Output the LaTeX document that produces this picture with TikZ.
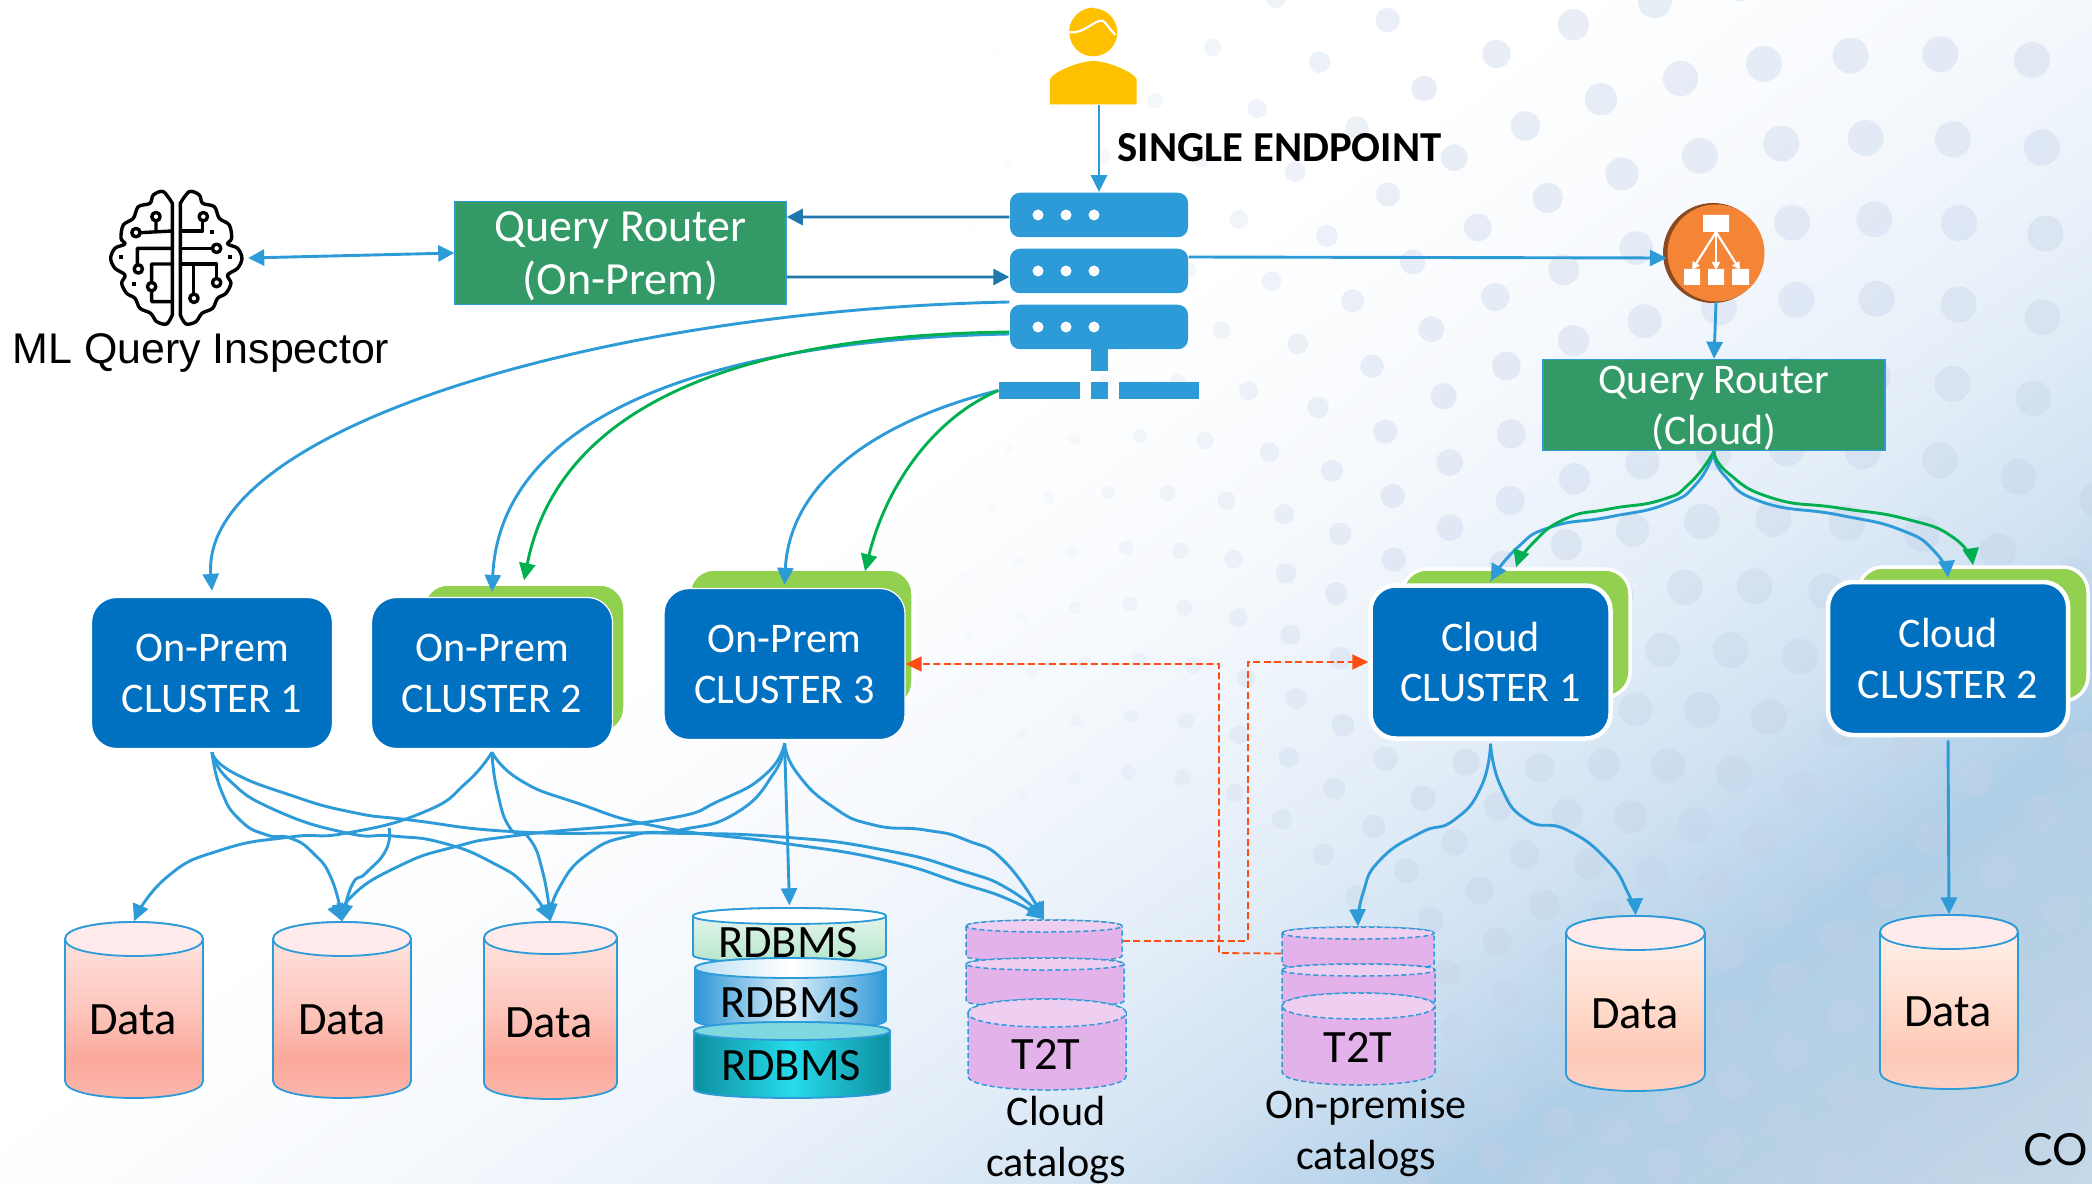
\documentclass[tikz,border=0pt]{standalone}
\usepackage{fontspec}
\setmainfont{Carlito}
\newfontfamily\arialfont{Liberation Sans}
\newfontfamily\logofont{Lato}
\usetikzlibrary{arrows.meta}

\definecolor{linkblue}{HTML}{2E9BD9}
\definecolor{darklink}{HTML}{1F78AB}
\definecolor{linkgreen}{HTML}{00B050}
\definecolor{linkorange}{HTML}{FF4D14}
\definecolor{routergreen}{HTML}{339966}
\definecolor{clusterblue}{HTML}{0070C0}
\definecolor{backgreen}{HTML}{92D050}
\definecolor{usergold}{HTML}{FFC000}
\definecolor{catpink}{HTML}{E3B2EA}
\definecolor{cattop}{HTML}{EECFF2}
\definecolor{lborange}{HTML}{F58536}
\definecolor{lbbrown}{HTML}{8A4A20}
\definecolor{dotgrey}{HTML}{C4D2E8}
\definecolor{tealtop}{HTML}{7FD8DF}
\definecolor{bga}{HTML}{F6F9FD}
\definecolor{bgb}{HTML}{E4EEF8}
\definecolor{bgc}{HTML}{CFE1F2}
\definecolor{bgd}{HTML}{B0CFE7}
\definecolor{bge}{HTML}{B8D1E4}
\definecolor{bgf}{HTML}{C6D8E8}
\definecolor{dataa}{HTML}{FDB8AE}
\definecolor{datab}{HTML}{FBA99C}
\definecolor{datac}{HTML}{FDC5BC}
\definecolor{datad}{HTML}{FEDCD6}
\definecolor{datae}{HTML}{FFF3F0}
\definecolor{peacha}{HTML}{FDD3C5}
\definecolor{peachb}{HTML}{FDC9B8}
\definecolor{peachc}{HTML}{FFDCCD}
\definecolor{peachd}{HTML}{FFECE5}
\definecolor{peache}{HTML}{FFF6F2}
\definecolor{rgreena}{HTML}{B2E4C8}
\definecolor{rgreenb}{HTML}{EEF8F2}
\definecolor{rbluea}{HTML}{2F98D8}
\definecolor{rblueb}{HTML}{DCEEF9}
\definecolor{rbluec}{HTML}{BEE1F5}
\definecolor{rteala}{HTML}{0E8F9F}
\definecolor{rtealb}{HTML}{26DCEC}

\pgfdeclarehorizontalshading{bgfade}{100bp}{color(0bp)=(white); color(46bp)=(white); color(52bp)=(bga);
  color(58bp)=(bgb); color(62.3bp)=(bgc); color(66.3bp)=(bgd); color(70.3bp)=(bge); color(75bp)=(bgf); color(100bp)=(bgf)}
\pgfdeclareverticalshading{datafade}{100bp}{color(0bp)=(dataa); color(25bp)=(dataa); color(37bp)=(datab);
  color(50bp)=(datac); color(65bp)=(datad); color(75bp)=(datae); color(100bp)=(datae)}
\pgfdeclareverticalshading{peachfade}{100bp}{color(0bp)=(peacha); color(25bp)=(peacha); color(37bp)=(peachb);
  color(50bp)=(peachc); color(65bp)=(peachd); color(75bp)=(peache); color(100bp)=(peache)}
\pgfdeclareverticalshading{rdbmsgreen}{100bp}{color(0bp)=(rgreena); color(25bp)=(rgreena); color(75bp)=(rgreenb); color(100bp)=(rgreenb)}
\pgfdeclarehorizontalshading{rdbmsblue}{100bp}{color(0bp)=(rbluea); color(25bp)=(rbluea); color(50bp)=(rblueb); color(75bp)=(rbluea); color(100bp)=(rbluea)}
\pgfdeclarehorizontalshading{rdbmslid}{100bp}{color(0bp)=(rbluec); color(25bp)=(rbluec); color(50bp)=(white); color(75bp)=(rbluec); color(100bp)=(rbluec)}
\pgfdeclarehorizontalshading{rdbmsteal}{100bp}{color(0bp)=(rteala); color(25bp)=(rteala); color(50bp)=(rtealb); color(75bp)=(rteala); color(100bp)=(rteala)}

% name, left, right, top, bottom, lid height, body style, lid style
\newcommand{\canshape}[8]{%
  \draw[#7] (#2,#4+#6) -- (#2,#5-#6) .. controls (#2,#5+#6/3) and (#3,#5+#6/3) .. (#3,#5-#6) -- (#3,#4+#6)
    .. controls (#3,#4-#6/3) and (#2,#4-#6/3) .. (#2,#4+#6) -- cycle;
  \draw[#8] (#2,#4+#6) .. controls (#2,#4-#6/3) and (#3,#4-#6/3) .. (#3,#4+#6)
    .. controls (#3,#4+2*#6+#6/3) and (#2,#4+2*#6+#6/3) .. (#2,#4+#6) -- cycle;
  \node[inner sep=0,minimum width={(#3-#2)*0.1mm},minimum height={(#5-#4)*0.1mm}] (#1) at ({(#2+#3)/2},{(#4+#5)/2}) {};
}

\tikzset{
  link/.style={draw=linkblue,line width=.29mm,-{Triangle[length=1.7mm,width=1.6mm]}},
  greenlink/.style={draw=linkgreen,line width=.29mm,-{Triangle[length=1.7mm,width=1.6mm]}},
  routerlink/.style={draw=darklink,line width=.29mm,-{Triangle[length=1.6mm,width=1.6mm]}},
  orangelink/.style={draw=linkorange,line width=.18mm,dash pattern=on .7mm off .35mm,-{Triangle[length=1.6mm,width=1.5mm]}},
  router/.style={rectangle,draw=linkblue,line width=.15mm,fill=routergreen,text=white,align=center,inner sep=0},
  cluster/.style={rectangle,rounded corners=2.5mm,fill=clusterblue,draw=white,line width=.12mm,text=white,align=center,
    minimum width=24.1mm,minimum height=15.1mm,inner sep=0,font=\fontsize{12}{14.5}\selectfont},
  cloudcluster/.style={cluster,line width=.45mm,minimum width=24mm,minimum height=15.3mm},
  clusterback/.style={rectangle,rounded corners=2.5mm,fill=backgreen,draw=white,line width=.35mm,inner sep=0},
  tier/.style={rectangle,rounded corners=1mm,fill=linkblue,minimum width=17.8mm,minimum height=4.45mm,inner sep=0},
  bar/.style={rectangle,fill=linkblue,inner sep=0},
  whitedot/.style={fill=white,draw=none},
  datacan/.style={draw=linkblue,line width=.18mm,shading=datafade},
  peachcan/.style={draw=linkblue,line width=.18mm,shading=peachfade},
  datalid/.style={draw=linkblue,line width=.18mm,fill=white!92!red},
  catbody/.style={draw=linkblue,line width=.15mm,dash pattern=on .5mm off .3mm,fill=catpink},
  catlid/.style={draw=linkblue,line width=.15mm,dash pattern=on .5mm off .3mm,fill=cattop},
  brainline/.style={draw=black,line width=.34mm,line join=round},
  cantext/.style={inner sep=0,font=\fontsize{13.2}{16}\selectfont},
  captext/.style={inner sep=0,align=center,font=\fontsize{12}{14.3}\selectfont}
}

\begin{document}
\begin{tikzpicture}[x=0.1mm,y=-0.1mm]
  \useasboundingbox (0,0) rectangle (2092,1183);

  % background
  \begin{scope}
    \clip (0,0) rectangle (2092,1183);
    \begin{scope}[transform canvas={rotate=-54.5}]
      \shade[shading=bgfade] (0,-3000) rectangle (2180,3000);
    \end{scope}
    \foreach \k in {3,...,26}{
      \pgfmathsetmacro{\ringr}{100+56*\k}
      \pgfmathsetmacro{\gap}{max(54,0.108*\ringr)}
      \pgfmathtruncatemacro{\ringn}{2*pi*\ringr/\gap}
      \foreach \j in {1,...,\ringn}{
        \pgfmathsetmacro{\ang}{\j/\ringn*360+3*\k}
        \pgfmathsetmacro{\dotx}{1130+\ringr*cos(\ang)}
        \pgfmathsetmacro{\doty}{1040-\ringr*sin(\ang)}
        \pgfmathtruncatemacro{\dotshow}{(\dotx>960)&&(\dotx<2110)&&(\doty>-20)&&(\doty<1200)}
        \ifnum\dotshow=1
          \pgfmathsetmacro{\dotr}{min(18,4+(\dotx-960)*0.019)}
          \pgfmathsetmacro{\dotop}{min(.36,.04+(\dotx-960)*0.0007)}
          \fill[dotgrey,fill opacity=\dotop] (\dotx,\doty) circle[radius=\dotr*0.1mm];
        \fi
      }
    }
  \end{scope}

  % user and server stack
  \node[inner sep=0,minimum width=8.7mm,minimum height=9.7mm] (user) at (1093.5,56) {};
  \begin{scope}[shift={(950,0)},x=0.03333mm,y=-0.03333mm]
    \fill[usergold] (300,313) -- (300,238) .. controls (310,215) and (390,183) .. (430,183)
      .. controls (470,183) and (550,215) .. (560,238) -- (560,313) -- cycle;
    \fill[usergold] (430,97) circle[radius=2.4mm];
    \fill[usergold] (358,97) .. controls (355,55) and (395,22) .. (430,23) .. controls (445,38) and (500,35) .. (497,100) -- cycle;
    \draw[white,line width=.22mm] (356,96) .. controls (400,105) and (430,60) .. (458,62) .. controls (470,70) and (480,90) .. (497,105);
  \end{scope}

  \node[tier] (srv1) at (1099,215) {};
  \node[tier] (srv2) at (1099,271) {};
  \node[tier] (srv3) at (1099,327) {};
  \foreach \s in {215,271,327}
    \foreach \d in {1038,1066,1094}
      \fill[whitedot] (\d,\s) circle[radius=.55mm];
  \node[bar,minimum width=1.7mm,minimum height=2.2mm] (srvstem) at (1099.5,360) {};
  \node[bar,minimum width=8.1mm,minimum height=1.65mm] (srvbasel) at (1039.5,390.5) {};
  \node[bar,minimum width=1.7mm,minimum height=1.65mm] (srvbasem) at (1099.5,390.5) {};
  \node[bar,minimum width=8mm,minimum height=1.65mm] (srvbaser) at (1159,390.5) {};

  \node[inner sep=0,anchor=west,font=\fontsize{12.15}{14}\selectfont\bfseries] (endpoint) at (1117,148) {SINGLE ENDPOINT};

  % ML inspector
  \node[inner sep=0,minimum width=13.3mm,minimum height=13.5mm] (brain) at (176,258) {};
  \begin{scope}[shift={(60,150)},x=0.03333mm,y=-0.03333mm]
    \foreach \mir/\off in {1/0,-1/698}{
      \begin{scope}[shift={(\off,0)},xscale=\mir]
        \draw[brainline] plot[smooth,tension=.55] coordinates {(337,160) (310,125) (280,135) (270,160) (235,170) (220,205) (190,225) (183,265) (195,282) (165,295) (152,325) (165,355) (195,375) (185,400) (200,430) (225,445) (240,475) (272,490) (290,515) (320,522) (337,495)} -- cycle;
      \end{scope}
    }
    \draw[brainline] (337,243) -- (243,248) (288,243) -- (288,214) (337,295) -- (232,295) -- (232,343)
      (337,342) -- (275,342) -- (275,397) (275,424) -- (275,455) -- (337,455);
    \draw[brainline] (361,243) -- (428,243) -- (428,214) (361,295) -- (456,295) (361,342) -- (470,342) -- (470,384) (400,342) -- (400,431);
    \foreach \bx/\by in {228/248,288/200,235/357,275/410,430/200,470/295,470/398,402/445}
      \draw[brainline,fill=white] (\bx,\by) circle[radius=.42mm];
    \foreach \bx/\by in {182/322,222/403,456/247,510/322}
      \fill[black] (\bx-6,\by-6) rectangle (\bx+6,\by+6);
  \end{scope}
  \node[inner sep=0,font=\arialfont\fontsize{12.2}{14}\selectfont] (mltext) at (201,353) {ML Query Inspector};

  % query routers
  \node[router,minimum width=33.1mm,minimum height=10.3mm,text depth=-2.5pt,font=\fontsize{13.1}{14.9}\selectfont] (qrprem) at (620.5,253) {Query Router\\(On-Prem)};
  \node[router,minimum width=34.2mm,minimum height=9.1mm,text depth=-1.2pt,font=\fontsize{12}{14.6}\selectfont] (qrcloud) at (1714,405) {Query Router\\(Cloud)};

  % load balancer
  \fill[lbbrown] (1713,253) circle[radius=5mm];
  \node[circle,fill=lborange,minimum size=9.7mm,inner sep=0] (lb) at (1716,253) {};
  \fill[white] (1703,215) rectangle (1729,232) (1684,269) rectangle (1700,285) (1708,269) rectangle (1724,285) (1732,269) rectangle (1749,285);
  \foreach \t in {1692,1716,1740}
    \draw[white,line width=.22mm,-{Triangle[length=.8mm,width=.8mm]}] (1716,232) -- (\t,270);

  % clusters
  \node[clusterback,minimum width=20.2mm,minimum height=14.9mm] (onprem2back) at (524,658.5) {};
  \node[clusterback,minimum width=22.4mm,minimum height=13.8mm] (onprem3back) at (801,638) {};
  \node[clusterback,minimum width=22.8mm,minimum height=12.8mm] (cloud1back) at (1516,633) {};
  \node[clusterback,minimum width=23mm,minimum height=13.4mm] (cloud2back) at (1973,634) {};
  \node[cluster] (onprem1) at (212,673) {On-Prem\\CLUSTER 1};
  \node[cluster] (onprem2) at (492,673) {On-Prem\\CLUSTER 2};
  \node[cluster] (onprem3) at (784.5,664) {On-Prem\\CLUSTER 3};
  \node[cloudcluster] (cloud1) at (1490.5,662) {Cloud\\CLUSTER 1};
  \node[cloudcluster] (cloud2) at (1948,658.5) {Cloud\\CLUSTER 2};

  % storage
  \canshape{data1}{65}{203}{922}{1098}{17}{datacan}{datalid}
  \canshape{data2}{273}{411}{922}{1098}{17}{datacan}{datalid}
  \canshape{data3}{484}{617}{922}{1099}{16}{datacan}{datalid}
  \canshape{data4}{1566}{1705}{916}{1091}{17}{peachcan}{datalid}
  \canshape{data5}{1880}{2018}{915}{1089}{17}{peachcan}{datalid}
  \node[cantext] (data1text) at (133,1020) {Data};
  \node[cantext] (data2text) at (342,1020) {Data};
  \node[cantext] (data3text) at (549,1023) {Data};
  \node[cantext] (data4text) at (1635,1014) {Data};
  \node[cantext] (data5text) at (1948,1012) {Data};

  \canshape{rdb1}{693}{886}{908}{963}{8}{draw=linkblue,line width=.18mm,shading=rdbmsgreen}{draw=linkblue,line width=.18mm,fill=white}
  \canshape{rdb2}{695}{886}{958}{1030}{10}{draw=linkblue,line width=.18mm,shading=rdbmsblue}{draw=linkblue,line width=.18mm,shading=rdbmslid}
  \canshape{rdb3}{694}{890}{1022}{1098}{9}{draw=linkblue,line width=.18mm,shading=rdbmsteal}{draw=linkblue,line width=.18mm,fill=tealtop}
  \node[cantext] (rdb1text) at (788,943) {RDBMS};
  \node[cantext] (rdb2text) at (790,1003) {RDBMS};
  \node[cantext] (rdb3text) at (791,1066) {RDBMS};

  \canshape{catcloud1}{966}{1122}{920}{962}{6}{catbody}{catlid}
  \canshape{catcloud2}{966}{1124}{958}{1007}{6}{catbody}{catlid}
  \canshape{catcloud3}{968}{1126}{999}{1090}{14}{catbody}{catlid}
  \canshape{catprem1}{1282}{1434}{927}{970}{6}{catbody}{catlid}
  \canshape{catprem2}{1282}{1435}{964}{1007}{6}{catbody}{catlid}
  \canshape{catprem3}{1282}{1435}{993}{1085}{13}{catbody}{catlid}
  \node[cantext] (t2tcloud) at (1046,1054) {T2T};
  \node[cantext] (t2tprem) at (1358,1047) {T2T};
  \node[captext] (cloudcap) at (1056,1140) {Cloud\\catalogs};
  \node[captext] (premcap) at (1366,1133) {On-premise\\catalogs};

  \node[inner sep=0,anchor=base west,font=\logofont\fontsize{12.6}{14}\selectfont] (corelogo) at (2023,1165) {CO};

  % top links
  \draw[link] (user.south -| srv1.north) -- (srv1.north);
  \draw[routerlink] ([yshift=-.2mm]srv1.west) -- ([yshift=3.6mm]qrprem.east);
  \draw[routerlink] ([yshift=-2.4mm]qrprem.east) -- ([yshift=-.6mm]srv2.west);
  \draw[link,{Triangle[length=1.6mm,width=1.6mm]}-{Triangle[length=1.6mm,width=1.6mm]}] ([xshift=.5mm]brain.east) -- (qrprem.west);
  \draw[link] ([yshift=1.4mm]srv2.east) -- ([yshift=-.5mm]lb.west);
  \draw[link] (lb.south) -- (qrcloud.north);

  % server to clusters
  \draw[link] ([yshift=-3.1mm]srv2.west) .. controls (600,310) and (200,430) .. ([yshift=.6mm]onprem1.north);
  \draw[link] ([yshift=-.7mm]srv3.west) .. controls (700,340) and (500,420) .. ([yshift=.5mm]onprem2.north);
  \draw[greenlink] ([yshift=-.5mm]srv3.west) .. controls (750,335) and (560,400) .. ([yshift=.2mm]onprem2back.north);
  \draw[link] (srvbasel.west) .. controls (880,420) and (790,480) .. ([yshift=.3mm]onprem3.north);
  \draw[greenlink] (srvbasel.west) .. controls (930,420) and (885,490) .. ([xshift=6.4mm,yshift=-.4mm]onprem3back.north);

  % cloud router to clusters
  \draw[link] plot[smooth,tension=.9] coordinates {(qrcloud.south) (1697,483) (1666,504) (1609,517) (1551,527) (1517,548) ([yshift=.2mm]cloud1.north)};
  \draw[greenlink] plot[smooth,tension=.9] coordinates {(qrcloud.south) (1690,483) (1661,500) (1609,509) (1565,519) (1532,544) (cloud1back.north)};
  \draw[link] plot[smooth,tension=.9] coordinates {(qrcloud.south) (1724,475) (1762,502) (1839,515) (1901,530) (1935,552) ([yshift=.2mm]cloud2.north)};
  \draw[greenlink] plot[smooth,tension=.9] coordinates {(qrcloud.south) (1728,473) (1772,498) (1839,508) (1906,519) (1954,538) (cloud2back.north)};

  % on-prem cluster 1
  \draw[link] plot[smooth,tension=.9] coordinates {([yshift=-.3mm]onprem1.south) (221,790) (240,820) (267,835) (290,838) (313,853) (332,880) (data2.north)};
  \draw[link] plot[smooth,tension=.9] coordinates {([yshift=-.3mm]onprem1.south) (229,780) (275,810) (347,833) (393,836) (443,843) (493,863) (527,887) (data3.north)};
  \draw[link] plot[smooth,tension=.9] coordinates {([yshift=-.3mm]onprem1.south) (232,772) (290,795) (351,812) (410,820) (520,832) (660,833) (782,837) (884,850) (960,870) (1010,890) (catcloud1.north)};

  % on-prem cluster 2
  \coordinate (split) at (389,828);
  \draw[link] plot[smooth,tension=.9] coordinates {([yshift=-.3mm]onprem2.south) (466,783) (424,812) (347,833) (290,837) (221,850) (167,877) (data1.north)};
  \draw[link] plot[smooth,tension=.9] coordinates {(split) (386,850) (366,873) (352,885) (data2.north)};
  \draw[link] plot[smooth,tension=.9] coordinates {([yshift=-.3mm]onprem2.south) (497,790) (510,828) (529,838) (543,873) (data3.north)};
  \draw[link] plot[smooth,tension=.9] coordinates {([yshift=-.3mm]onprem2.south) (520,780) (577,803) (660,827) (782,843) (884,860) (960,883) (1010,900) (catcloud1.north)};

  % on-prem cluster 3
  \draw[link] plot[smooth,tension=.9] coordinates {([yshift=-.3mm]onprem3.south) (767,773) (721,800) (660,820) (520,835) (454,847) (397,867) (351,897) (data2.north)};
  \draw[link] plot[smooth,tension=.9] coordinates {([yshift=-.3mm]onprem3.south) (774,773) (736,813) (680,830) (634,835) (589,853) (558,890) (data3.north)};
  \draw[link] plot[smooth,tension=.9] coordinates {([yshift=-.3mm]onprem3.south) (787,823) ([yshift=.2mm]rdb1.north)};
  \draw[link] plot[smooth,tension=.9] coordinates {([yshift=-.3mm]onprem3.south) (797,773) (833,807) (874,825) (925,830) (966,840) (1006,863) (catcloud1.north)};

  % cloud clusters to storage
  \draw[link] plot[smooth,tension=.9] coordinates {([yshift=-.3mm]cloud1.south) (1481,787) (1454,820) (1420,833) (1380,860) (1363,893) (catprem1.north)};
  \draw[link] plot[smooth,tension=.9] coordinates {([yshift=-.3mm]cloud1.south) (1501,787) (1527,820) (1567,830) (1607,860) (1628,893) (data4.north)};
  \draw[link] ([yshift=-.3mm]cloud2.south) -- (data5.north);

  % catalog replication
  \draw[orangelink] (catcloud1.east) -- (1248,941) -- (1248,662) -- (cloud1.west);
  \draw[orangelink] ([yshift=-.5mm]catprem1.west) -- (1219,953) -- (1219,664) -- (onprem3.east);
\end{tikzpicture}
\end{document}
